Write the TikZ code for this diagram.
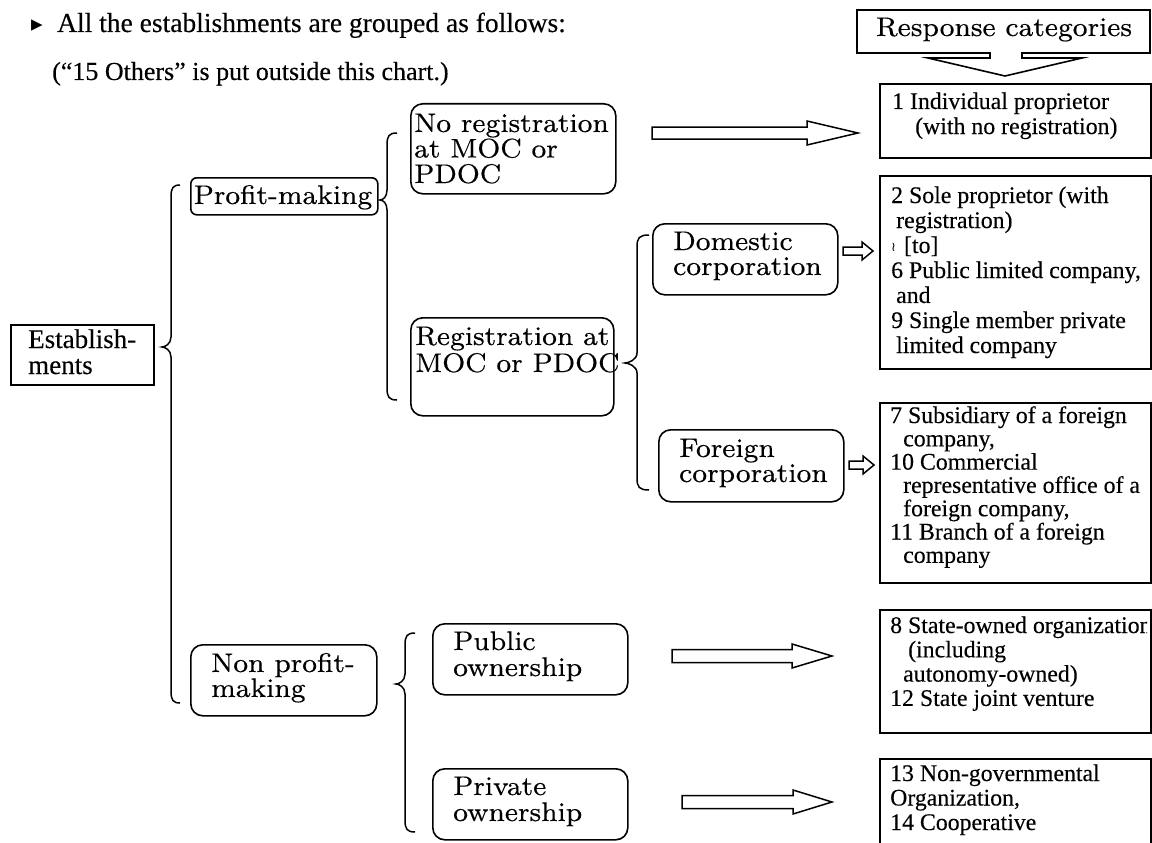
\documentclass[tikz,border=0pt]{standalone}
\usepackage{fontspec}
\setmainfont{Liberation Serif}[FakeBold=0.25]
\newfontfamily\mincho{lmroman8-regular.otf}[FakeStretch=1.03,FakeBold=0.2]
\newfontfamily\dejavu{DejaVu Sans}
\usetikzlibrary{calc}
\newcommand\mylines[1]{\vtop{\lineskiplimit=-100pt\relax\halign{##\hfil\cr#1\crcr}}}
\newcommand\cbrace[6]{%
  \draw[bracel] (#1+#5,#2) .. controls (#1+2,#2) and (#1,#2+3) .. (#1,#2+12)
    -- (#1,#3-10) .. controls (#1,#3-3) and (#1-#6+3,#3) .. (#1-#6,#3)
    .. controls (#1-#6+3,#3) and (#1,#3+3) .. (#1,#3+10)
    -- (#1,#4-12) .. controls (#1,#4-3) and (#1+2,#4) .. (#1+#5,#4);}
\newcommand\blockarrow[5]{%
  \draw[barrow] let \p1=(#1), \p2=(#2) in
    (\x1,\y1+#3) -- (\x2-#5,\y1+#3) -- (\x2-#5,\y1+#4) -- (\x2,\y1)
    -- (\x2-#5,\y1-#4) -- (\x2-#5,\y1-#3) -- (\x1,\y1-#3) -- cycle;}
\tikzset{
  mbox/.style={draw, line width=1.6, rounded corners=12, anchor=north west, inner sep=0},
  sbox/.style={draw, line width=1.6, anchor=north west, inner sep=0},
  mtxt/.style={font=\mincho\fontsize{27}{#1}\selectfont, anchor=base west, inner sep=0},
  ttxt/.style={font=\fontsize{23.8}{#1}\selectfont, anchor=base west, inner sep=0},
  bracel/.style={line width=1.5},
  barrow/.style={line width=1.5, line join=miter},
}
\begin{document}
\begin{tikzpicture}[x=1pt,y=-1pt]
\fill[white] (0,0) rectangle (1152,843);
\useasboundingbox (0,0) rectangle (1152,843);

% heading
\node[anchor=base west, inner sep=0, font=\dejavu\fontsize{23}{23}\selectfont] (bul) at (31,32) {▸};
\node[anchor=base west, inner sep=0, font=\fontsize{27.5}{26}\selectfont] (head1) at (57,32) {All the establishments are grouped as follows:};
\node[anchor=base west, inner sep=0, font=\fontsize{26}{26}\selectfont] (head2) at (52,80) {(“15 Others” is put outside this chart.)};

% response categories callout
\node[anchor=base, inner sep=0, font=\mincho\fontsize{27}{27}\selectfont] (rc) at (1004,36) {Response categories};
\draw[line width=1.6, line join=miter] (990,53) -- (857,53) -- (857,10) -- (1150,10) -- (1150,53) -- (1022,53)
  -- (1022,58) -- (1082,58) -- (1005,76) -- (928,58) -- (990,58) -- cycle;

% main boxes
\node[sbox, minimum width=143, minimum height=60] (est) at (10,324) {};
\node[mbox, rounded corners=6, minimum width=187, minimum height=37] (profit) at (190,177) {};
\node[mbox, minimum width=186, minimum height=71] (nonprofit) at (190,644) {};
\node[mbox, minimum width=205, minimum height=90] (noreg) at (410,103) {};
\node[mbox, minimum width=203, minimum height=98] (reg) at (410,317) {};
\node[mbox, minimum width=185, minimum height=71] (dom) at (652,223) {};
\node[mbox, minimum width=185, minimum height=72] (for) at (658,429) {};
\node[mbox, minimum width=195, minimum height=71] (pub) at (432,623) {};
\node[mbox, minimum width=195, minimum height=71] (priv) at (432,768) {};

\node[anchor=base west, inner sep=0, font=\fontsize{27}{26}\selectfont] (estT) at (28,348) {\mylines{Establish-\cr ments}};
\node[inner sep=0, anchor=base, font=\mincho\fontsize{27}{27}\selectfont] (profitT) at (283,204) {Profit-making};
\node[mtxt=25] (nonprofitT) at (211,672) {\mylines{Non profit-\cr making}};
\node[mtxt=25.5] (noregT) at (414,132) {\mylines{No registration\cr at MOC or\cr PDOC}};
\node[mtxt=27] (regT) at (415,345) {\mylines{Registration at\cr MOC or PDOC}};
\node[mtxt=25] (domT) at (673,250) {\mylines{Domestic\cr corporation}};
\node[mtxt=25] (forT) at (679,457) {\mylines{Foreign\cr corporation}};
\node[mtxt=26] (pubT) at (453,650) {\mylines{Public\cr ownership}};
\node[mtxt=26] (privT) at (453,795) {\mylines{Private\cr ownership}};

% response boxes
\node[sbox, minimum width=271, minimum height=74] (r1) at (879,83) {};
\node[sbox, minimum width=271, minimum height=193] (r2) at (879,175) {};
\node[sbox, minimum width=271, minimum height=180] (r7) at (879,402) {};
\node[sbox, minimum width=271, minimum height=123] (r8) at (879,609) {};
\node[sbox, minimum width=271, minimum height=100] (r13) at (879,758) {};

\node[ttxt=25] (r1T) at (892,109) {\mylines{1 Individual proprietor\cr \hspace{23pt}(with no registration)}};
\node[ttxt=25] (r2T) at (891,203) {\mylines{2 Sole proprietor (with\cr
  \hspace{5pt}registration)\cr
  \raisebox{2pt}{\dejavu\fontsize{13}{13}\selectfont ≀}\hspace{8pt}[to]\cr
  6 Public limited company,\cr
  \hspace{5pt}and\cr
  9 Single member private\cr
  \hspace{5pt}limited company}};
\node[ttxt=23.3] (r7T) at (890,423) {\mylines{7 Subsidiary of a foreign\cr
  \hspace{13pt}company,\cr
  10 Commercial\cr
  \hspace{13pt}representative office of a\cr
  \hspace{13pt}foreign company,\cr
  11 Branch of a foreign\cr
  \hspace{13pt}company}};
\begin{scope}
\clip (879,609) rectangle (1147,732);
\node[ttxt=24.3] (r8T) at (890,633) {\mylines{8 State-owned organization\cr
  \hspace{18pt}(including\cr
  \hspace{13pt}autonomy-owned)\cr
  12 State joint venture}};
\end{scope}
\node[ttxt=24.5] (r13T) at (890,781) {\mylines{13 Non-governmental\cr
  Organization,\cr
  14 Cooperative}};

% braces
\cbrace{171}{185}{347}{703}{9}{9}
\cbrace{387}{133}{200}{400}{10}{7}
\cbrace{637}{235}{363}{490}{12}{12}
\cbrace{405}{633}{684}{832}{10}{9}

% arrows
\coordinate (a1s) at (652,133); \coordinate (a1e) at (858,133);
\coordinate (a2s) at (843,251); \coordinate (a2e) at (873,251);
\coordinate (a3s) at (849,465); \coordinate (a3e) at (874,465);
\coordinate (a4s) at (672,656); \coordinate (a4e) at (832,656);
\coordinate (a5s) at (682,802); \coordinate (a5e) at (832,802);
\blockarrow{a1s}{a1e}{6}{12}{51}
\blockarrow{a2s}{a2e}{4}{9}{11}
\blockarrow{a3s}{a3e}{4}{9}{11}
\blockarrow{a4s}{a4e}{6.5}{12}{40}
\blockarrow{a5s}{a5e}{6.5}{12}{39}
\end{tikzpicture}
\end{document}
